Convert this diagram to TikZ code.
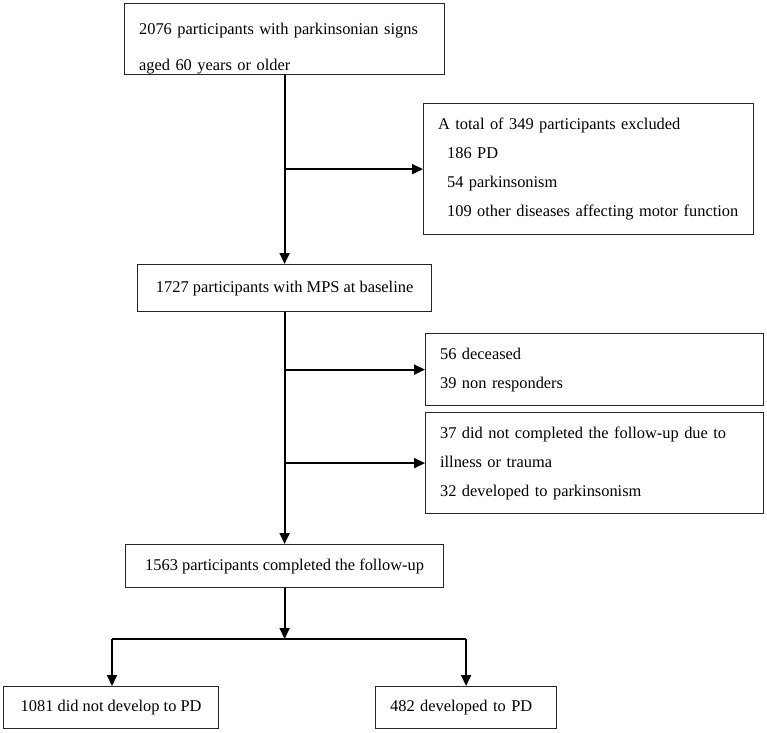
\documentclass[tikz,border=0pt]{standalone}
\usepackage{fontspec}
\setmainfont{Liberation Serif}
\usetikzlibrary{arrows.meta}
\begin{document}
\begin{tikzpicture}[x=1pt,y=-1pt,
  box/.style={draw=black!85, line width=1.2pt, anchor=north west, inner ysep=0pt,
    font=\fontsize{16.4}{29}\selectfont},
  lbox/.style={box, align=left, inner xsep=14.5pt},
  cbox/.style={box, align=center, inner xsep=0pt},
  link/.style={line width=1.8pt, black},
  arr/.style={link, -{Triangle[length=11pt,width=10pt]}}]
\useasboundingbox (0,0) rectangle (767,732);
% main column
\node[lbox, text width=291pt, minimum width=320pt, minimum height=71pt,
  font=\fontsize{16.4}{36.5}\selectfont] (b1) at (124,3)
  {\rule{0pt}{30pt}2076 participants with parkinsonian signs\\aged 60 years or older};
\node[cbox, minimum width=294pt, minimum height=47pt] (b2) at (137,264)
  {1727 participants with MPS at baseline};
\node[cbox, minimum width=318pt, minimum height=43pt] (b3) at (125,544)
  {1563 participants completed the follow-up};
\node[cbox, minimum width=215pt, minimum height=42pt] (b4) at (3,686)
  {1081 did not develop to PD};
\node[lbox, text width=152pt, minimum width=181pt, minimum height=42pt] (b5) at (375,686)
  {482 developed to PD};
% side boxes
\node[lbox, text width=301pt, minimum width=330pt, minimum height=131pt] (ex) at (423,103)
  {\mbox{A total of 349 participants excluded}\\
   \mbox{\hspace*{9pt}186 PD}\\
   \mbox{\hspace*{9pt}54 parkinsonism}\\
   \mbox{\hspace*{9pt}109 other diseases affecting motor function}};
\node[lbox, text width=309pt, minimum width=338pt, minimum height=72pt] (de) at (425,333)
  {56 deceased\\39 non responders};
\node[lbox, text width=309pt, minimum width=338pt, minimum height=101pt] (fu) at (425,412)
  {\makebox[309pt][s]{37 did not completed the follow-up due to}\\
   \mbox{illness or trauma}\\
   \mbox{32 developed to parkinsonism}};
% connectors
\coordinate (split) at (284,639);
\coordinate (sl) at (112,639);
\coordinate (sr) at (b5.north |- split);
\draw[arr] (b1.south) -- (b2.north);
\draw[arr] (b1.south |- ex.west) -- (ex.west);
\draw[arr] (b2.south) -- (b3.north);
\draw[arr] (b2.south |- de.west) -- (de.west);
\draw[arr] (b2.south |- fu.west) -- (fu.west);
\draw[arr] (b3.south) -- (b3.south |- split);
\draw[link] (sl) -- (sr);
\draw[arr] (sl) -- (sl |- b4.north);
\draw[arr] (sr) -- (b5.north);
\end{tikzpicture}
\end{document}
